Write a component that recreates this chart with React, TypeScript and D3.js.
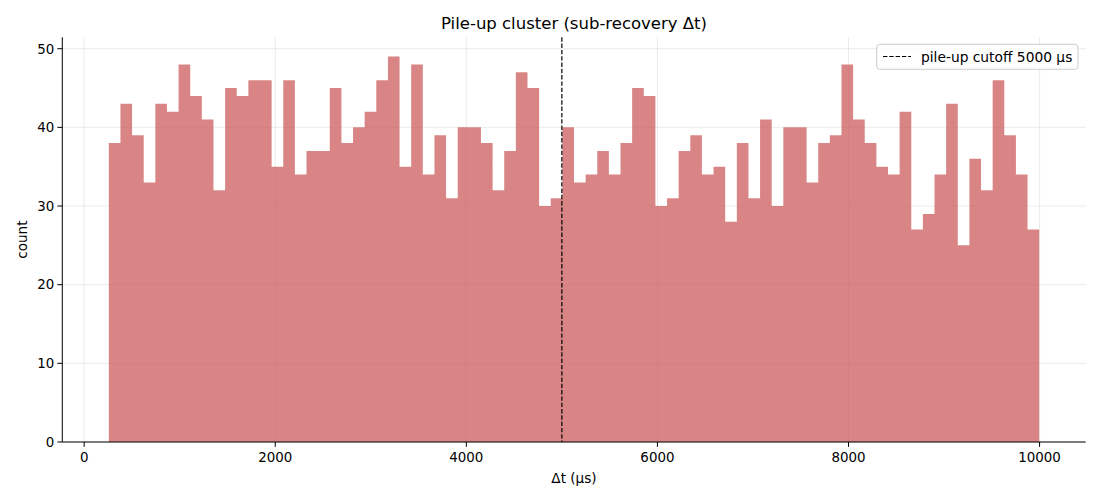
import React from "react";
import * as d3 from "d3";

const counts: number[] = [
  38, 43, 39, 33, 43, 42, 48, 44, 41, 32,
  45, 44, 46, 46, 35, 46, 34, 37, 37, 45,
  38, 40, 42, 46, 49, 35, 48, 34, 39, 31,
  40, 40, 38, 32, 37, 47, 45, 30, 31, 40,
  33, 34, 37, 34, 38, 45, 44, 30, 31, 37,
  39, 34, 35, 28, 38, 31, 41, 30, 40, 40,
  33, 38, 39, 48, 41, 38, 35, 34, 42, 27,
  29, 34, 43, 25, 36, 32, 46, 39, 34, 27,
];
const binMin = 258;
const binMax = 9996;
const cutoff = 5000;
const xTicks = [0, 2000, 4000, 6000, 8000, 10000];
const yTicks = [0, 10, 20, 30, 40, 50];
const titleText = "Pile-up cluster (sub-recovery Δt)";
const xLabel = "Δt (μs)";
const yLabel = "count";
const legendLabel = "pile-up cutoff 5000 μs";

const W = 1100;
const H = 500;
const left = 62.3;
const right = 1085.7;
const top = 37.3;
const bottom = 442;
const font = "DejaVu Sans, sans-serif";

export default function App() {
  const n = counts.length;
  const bw = (binMax - binMin) / n;
  const span = binMax - binMin;
  const x = d3.scaleLinear().domain([binMin - 0.05 * span, binMax + 0.05 * span]).range([left, right]);
  const yMax = (d3.max(counts) as number) * 1.05;
  const y = d3.scaleLinear().domain([0, yMax]).range([bottom, top]);

  // single step outline so that neighbouring bars have no seams
  const p = d3.path();
  p.moveTo(x(binMin), y(0));
  counts.forEach((c, i) => {
    p.lineTo(x(binMin + i * bw), y(c));
    p.lineTo(x(binMin + (i + 1) * bw), y(c));
  });
  p.lineTo(x(binMax), y(0));
  p.closePath();

  return (
    <svg width={W} height={H} style={{ position: "absolute", left: 0, top: 0, background: "#fff" }} fontFamily={font}>
      {xTicks.map((t) => (
        <line key={"gx" + t} x1={x(t)} x2={x(t)} y1={top} y2={bottom} stroke="#b0b0b0" strokeOpacity={0.3} strokeWidth={0.8} />
      ))}
      {yTicks.map((t) => (
        <line key={"gy" + t} x1={left} x2={right} y1={y(t)} y2={y(t)} stroke="#b0b0b0" strokeOpacity={0.3} strokeWidth={0.8} />
      ))}
      <path d={p.toString()} fill="#cd5c5c" fillOpacity={0.75} />
      <line x1={x(cutoff)} x2={x(cutoff)} y1={top} y2={bottom} stroke="#000" strokeWidth={1.2} strokeDasharray="4.4,1.9" />
      <line x1={left} x2={left} y1={top} y2={bottom} stroke="#000" strokeWidth={1} />
      <line x1={left} x2={right} y1={bottom} y2={bottom} stroke="#000" strokeWidth={1} />
      {xTicks.map((t) => (
        <g key={"tx" + t}>
          <line x1={x(t)} x2={x(t)} y1={bottom} y2={bottom + 4.9} stroke="#000" strokeWidth={1} />
          <text x={x(t)} y={bottom + 20} textAnchor="middle" fontSize={13.4} fill="#000">{t}</text>
        </g>
      ))}
      {yTicks.map((t) => (
        <g key={"ty" + t}>
          <line x1={left - 4.9} x2={left} y1={y(t)} y2={y(t)} stroke="#000" strokeWidth={1} />
          <text x={left - 8} y={y(t) + 4.8} textAnchor="end" fontSize={13.4} fill="#000">{t}</text>
        </g>
      ))}
      <text x={(left + right) / 2} y={483} textAnchor="middle" fontSize={13.6} fill="#000">{xLabel}</text>
      <text transform={`translate(27,${(top + bottom) / 2}) rotate(-90)`} textAnchor="middle" fontSize={13.6} fill="#000">{yLabel}</text>
      <text x={(left + right) / 2} y={29} textAnchor="middle" fontSize={16.5} fill="#000">{titleText}</text>
      <rect x={876.7} y={44.3} width={201.3} height={25} rx={3} fill="#fff" fillOpacity={0.8} stroke="#ccc" strokeWidth={1} />
      <line x1={883} x2={911} y1={56.5} y2={56.5} stroke="#000" strokeWidth={1.2} strokeDasharray="4.4,1.9" />
      <text x={921} y={61.5} fontSize={13.8} fill="#000">{legendLabel}</text>
    </svg>
  );
}
